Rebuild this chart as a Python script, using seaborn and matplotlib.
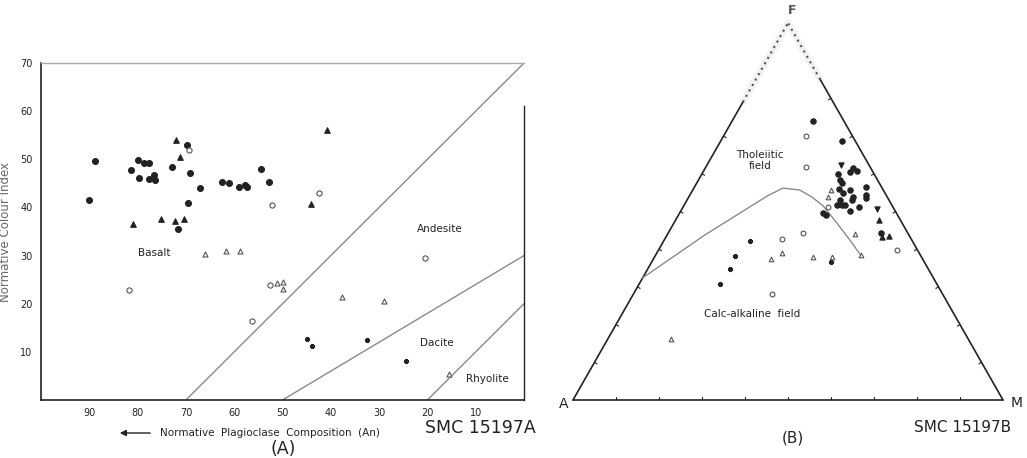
import numpy as np
import pandas as pd
import matplotlib
matplotlib.use("Agg")
import matplotlib.pyplot as plt
import seaborn as sns

# ---- panel A: normative plagioclase (An) vs normative colour index ----
an_filled_circle = [90.1, 88.8, 81.4, 80.0, 79.7, 78.6, 77.6, 77.6, 76.7, 76.5, 72.9, 69.7,
                    69.1, 69.5, 67.0, 62.6, 61.1, 59.0, 57.8, 57.3, 54.5, 52.7, 71.6]
ci_filled_circle = [41.6, 49.7, 47.8, 49.9, 46.1, 49.3, 49.3, 46.0, 46.8, 45.8, 48.4, 52.9,
                    47.1, 40.9, 44.0, 45.2, 45.0, 44.2, 44.7, 44.2, 48.0, 45.2, 35.6]
an_filled_tri = [72.0, 71.2, 81.0, 75.2, 72.2, 70.3, 40.8, 44.2]
ci_filled_tri = [54.0, 50.4, 36.6, 37.5, 37.1, 37.7, 56.1, 40.7]
an_open_circle = [69.3, 52.2, 42.5, 81.8, 56.3, 52.6, 20.6]
ci_open_circle = [51.9, 40.5, 42.9, 22.9, 16.4, 23.9, 29.4]
an_open_tri = [66.0, 61.6, 58.7, 51.2, 49.8, 50.0, 37.6, 29.0, 15.5]
ci_open_tri = [30.4, 30.9, 30.9, 24.2, 24.6, 23.0, 21.3, 20.5, 5.3]
an_plus = [44.9, 43.8, 32.6, 24.5]
ci_plus = [12.6, 11.3, 12.4, 8.1]

# field boundaries (An, CI end points)
bound_an = [[70, 0], [50, 0], [20, 0]]
bound_ci = [[0, 70], [0, 30], [0, 20]]
field_names = ["Basalt", "Andesite", "Dacite", "Rhyolite"]
field_an = [76.5, 17.5, 18.0, 7.5]
field_ci = [30.5, 35.5, 11.8, 4.3]

# ---- panel B: AFM triangle (F %, M %; A = 100 - F - M) ----
f_filled_circle = [73.9, 68.7, 60.6, 61.5, 60.7, 59.9, 58.4, 57.5, 56.1, 55.7, 56.4, 54.8, 53.9,
                   53.0, 54.4, 53.5, 53.0, 51.7, 51.7, 51.7, 50.1, 51.1, 49.5, 49.1, 44.2]
m_filled_circle = [18.8, 28.1, 34.1, 34.4, 35.6, 31.6, 32.9, 33.7, 33.9, 36.6, 39.9, 35.5, 38.2,
                   38.3, 40.9, 41.3, 35.7, 35.5, 36.6, 37.4, 39.4, 41.0, 33.5, 34.3, 49.5]
f_filled_tri = [47.7, 43.3, 43.5]
m_filled_tri = [47.3, 50.1, 51.8]
f_inv_tri = [62.3, 50.6]
m_inv_tri = [31.2, 45.3]
f_open_tri = [55.7, 53.8, 44.0, 38.5, 37.8, 37.8, 39.1, 37.3, 16.1]
m_open_tri = [32.2, 32.5, 43.6, 47.7, 36.8, 41.3, 29.0, 27.3, 14.7]
f_open_circle = [70.0, 61.9, 51.1, 39.8, 42.7, 44.2, 28.1]
m_open_circle = [19.2, 23.2, 33.8, 55.5, 27.3, 31.5, 32.3]
f_plus = [42.1, 38.3, 34.8, 30.8, 36.7]
m_plus = [20.0, 18.5, 19.1, 18.8, 41.6]

# tholeiitic / calc-alkaline dividing curve
curve_f = [32.4, 43.8, 54.1, 56.2, 55.7, 53.8, 51.5, 47.2, 42.4, 37.9]
curve_m = [0.0, 8.8, 18.1, 20.7, 24.9, 28.7, 32.4, 37.6, 43.2, 48.3]

H = np.sqrt(3) / 2


def tern(f, m):
    f = np.asarray(f) / 100.0
    m = np.asarray(m) / 100.0
    return m + f / 2, f * H


sns.set_style("white")
plt.rcParams['font.family'] = ['DejaVu Sans']
INK = "#222222"
GREY = "#8a8a8a"

fig = plt.figure(figsize=(10.27, 4.58), dpi=100)
W, Hp = 1027, 458


def fpos(px, py):
    return px / W, 1 - py / Hp


# ================= panel A =================
axA = fig.add_axes([41 / W, 1 - 400 / Hp, 483 / W, 337 / Hp])

groups_a = [
    (an_filled_circle, ci_filled_circle, "o", INK, INK, 18),
    (an_filled_tri, ci_filled_tri, "^", INK, INK, 16),
    (an_open_circle, ci_open_circle, "o", "white", "#555555", 14),
    (an_open_tri, ci_open_tri, "^", "white", "#555555", 13),
    (an_plus, ci_plus, "P", INK, INK, 7),
]
for xs, ys, mk, fc, ec, sz in groups_a:
    df = pd.DataFrame({"An": xs, "CI": ys})
    sns.scatterplot(data=df, x="An", y="CI", marker=mk, color=fc, edgecolor=ec,
                    linewidth=0.8, s=sz, ax=axA, zorder=3)

for bx, by in zip(bound_an, bound_ci):
    axA.plot(bx, by, color=GREY, lw=1.0, zorder=2)

for name, x, y in zip(field_names, field_an, field_ci):
    axA.text(x, y, name, fontsize=7.5, color=INK, ha="center", va="center")

axA.set_xlim(100, 0)
axA.set_ylim(0, 70)
axA.set_xticks([90, 80, 70, 60, 50, 40, 30, 20, 10])
axA.set_yticks([10, 20, 30, 40, 50, 60, 70])
axA.tick_params(direction="in", length=3, width=0.8, labelsize=7, colors=INK, pad=6)
axA.set_xlabel("")
axA.set_ylabel("Normative Colour Index", fontsize=8.5, color="#666666", labelpad=8)
axA.yaxis.set_label_coords(-0.06, 0.5)
for side in ["left", "bottom"]:
    axA.spines[side].set_color(INK)
    axA.spines[side].set_linewidth(1.2)
axA.spines["top"].set_color("#aaaaaa")
axA.spines["top"].set_linewidth(1.0)
axA.spines["right"].set_color(INK)
axA.spines["right"].set_linewidth(1.0)
axA.spines["right"].set_bounds(0, 61)

# x caption with arrow
fig.add_artist(matplotlib.patches.FancyArrowPatch(
    fpos(153, 433), fpos(117, 433), transform=fig.transFigure,
    arrowstyle="-|>", mutation_scale=9, color=INK, lw=1.0))
x0, y0 = fpos(160, 433)
fig.text(x0, y0, "Normative  Plagioclase  Composition  (An)", fontsize=7.5,
         color=INK, ha="left", va="center")
x0, y0 = fpos(480, 428)
fig.text(x0, y0, "SMC 15197A", fontsize=12.5, color=INK, ha="center", va="center")
x0, y0 = fpos(283, 449)
fig.text(x0, y0, "(A)", fontsize=12.5, color=INK, ha="center", va="center")

# ================= panel B =================
axB = fig.add_axes([573 / W, 1 - 400 / Hp, 430 / W, 377 / Hp])
axB.set_xlim(0, 1)
axB.set_ylim(0, H)
axB.axis("off")

# triangle frame: solid lower part, dotted near the F apex
fl, fr = 0.79, 0.85
axB.plot([0, 1], [0, 0], color=INK, lw=1.2, clip_on=False)
axB.plot([0, fl / 2], [0, fl * H], color=INK, lw=1.2, clip_on=False)
axB.plot([1, 1 - fr / 2], [0, fr * H], color=INK, lw=1.2, clip_on=False)
axB.plot([fl / 2, 0.5], [fl * H, H], color="#f2f2f2", lw=5, clip_on=False, zorder=0)
axB.plot([1 - fr / 2, 0.5], [fr * H, H], color="#f2f2f2", lw=5, clip_on=False, zorder=0)
axB.plot([fl / 2, 0.5], [fl * H, H], color="#555555", lw=1.5, ls=(0, (1, 2)), clip_on=False)
axB.plot([1 - fr / 2, 0.5], [fr * H, H], color="#555555", lw=1.5, ls=(0, (1, 2)), clip_on=False)

# short inward tick marks every 10 %
tl = 0.007
for k in range(1, 10):
    t = k / 10
    axB.plot([t, t], [0, tl], color=INK, lw=0.8)
    if t < fl:
        px, py = t / 2, t * H
        axB.plot([px, px + tl * H], [py, py - tl * 0.5], color=INK, lw=0.8)
    if t < fr:
        px, py = 1 - t / 2, t * H
        axB.plot([px, px - tl * H], [py, py - tl * 0.5], color=INK, lw=0.8)

cx, cy = tern(curve_f, curve_m)
axB.plot(cx, cy, color=GREY, lw=1.0, zorder=2)

groups_b = [
    (f_filled_circle, m_filled_circle, "o", INK, INK, 15),
    (f_filled_tri, m_filled_tri, "^", INK, INK, 14),
    (f_inv_tri, m_inv_tri, "v", INK, INK, 14),
    (f_open_circle, m_open_circle, "o", "white", "#555555", 12),
    (f_open_tri, m_open_tri, "^", "white", "#555555", 11),
    (f_plus, m_plus, "P", INK, INK, 6),
]
for fs, ms, mk, fc, ec, sz in groups_b:
    tx, ty = tern(fs, ms)
    df = pd.DataFrame({"x": tx, "y": ty})
    sns.scatterplot(data=df, x="x", y="y", marker=mk, color=fc, edgecolor=ec,
                    linewidth=0.8, s=sz, ax=axB, zorder=3, clip_on=False)

axB.text(0.435, 0.55, "Tholeiitic\nfield", fontsize=7.5, color=INK,
         ha="center", va="center", linespacing=1.1)
axB.text(0.416, 0.198, "Calc-alkaline  field", fontsize=7.5, color=INK,
         ha="center", va="center")
axB.set_xlabel("")
axB.set_ylabel("")

x0, y0 = fpos(792, 10)
fig.text(x0, y0, "F", fontsize=9, color="#555555", ha="center", va="center", fontweight="bold")
x0, y0 = fpos(564, 404)
fig.text(x0, y0, "A", fontsize=10, color=INK, ha="center", va="center")
x0, y0 = fpos(1017, 403)
fig.text(x0, y0, "M", fontsize=10, color=INK, ha="center", va="center")
x0, y0 = fpos(963, 427)
fig.text(x0, y0, "SMC 15197B", fontsize=11, color=INK, ha="center", va="center")
x0, y0 = fpos(793, 438)
fig.text(x0, y0, "(B)", fontsize=11, color=INK, ha="center", va="center")

fig.savefig("out.png", dpi=100, facecolor="white")
